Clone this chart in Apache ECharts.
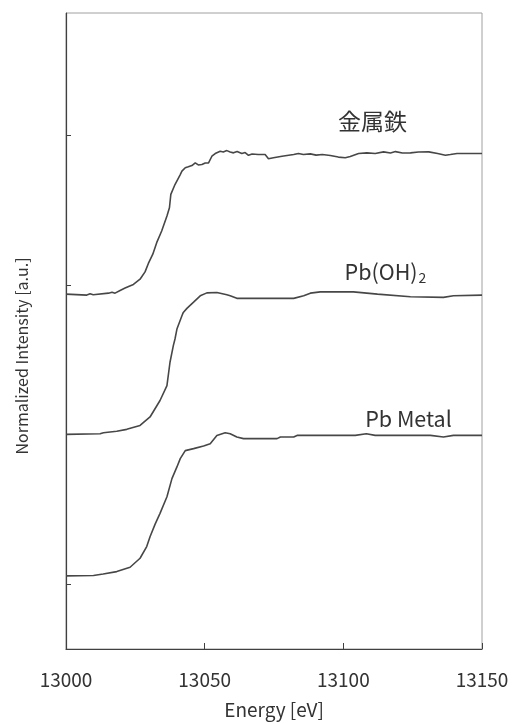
<!DOCTYPE html>
<html>
<head>
<meta charset="utf-8">
<script src="https://cdn.jsdelivr.net/npm/echarts@6/dist/echarts.min.js"></script>
<style>html,body{margin:0;padding:0;background:#fff}#c{width:512px;height:724px}</style>
</head>
<body>
<div id="c"></div>
<script>
// Energy [eV] and offset normalized intensity values
const pbMetal = [
  [13000,0.000],[13009.9,0.002],[13013.4,0.013],[13018.3,0.030],[13023.1,0.061],[13026.7,0.125],
  [13029.1,0.208],[13030.3,0.278],[13032.1,0.366],[13033.9,0.444],[13036.4,0.562],[13038.2,0.691],
  [13040.0,0.774],[13041.2,0.833],[13043.0,0.890],[13046.0,0.904],[13049.6,0.923],[13052.0,0.939],
  [13054.4,0.998],[13057.4,1.017],[13059.2,1.010],[13061.6,0.987],[13064.0,0.975],[13076.1,0.975],
  [13077.3,0.987],[13082.1,0.987],[13083.3,0.998],[13095.3,0.998],[13104.3,0.998],[13108.3,1.010],
  [13111.5,0.998],[13131.4,0.998],[13136.1,0.987],[13139.7,0.998],[13150,0.998]
];
const pbOH2 = [
  [13000,1.005],[13012.3,1.010],[13013.5,1.017],[13018.3,1.027],[13021.9,1.041],[13026.7,1.069],
  [13030.3,1.129],[13033.9,1.246],[13036.4,1.352],[13037.5,1.518],[13038.7,1.636],[13039.3,1.683],
  [13040.0,1.754],[13041.8,1.848],[13042.3,1.872],[13043.6,1.901],[13046.0,1.945],[13048.4,1.990],
  [13050.8,2.011],[13054.4,2.014],[13058.0,1.997],[13059.2,1.990],[13061.6,1.972],[13070.0,1.972],
  [13070.6,1.983],[13071.1,1.972],[13082.1,1.972],[13085.7,1.990],[13088.1,2.009],[13091.7,2.018],
  [13103.6,2.018],[13112.3,2.002],[13124.2,1.983],[13136.1,1.979],[13139.7,1.990],[13150,1.995]
];
const metalFe = [
  [13000,2.002],[13007.5,1.995],[13008.7,2.004],[13009.8,1.998],[13015.3,2.009],[13016.6,2.016],
  [13017.7,2.009],[13019.5,2.028],[13021.3,2.045],[13022.0,2.034],[13024.3,2.071],[13026.7,2.108],
  [13028.5,2.160],[13029.7,2.220],[13031.3,2.286],[13032.7,2.368],[13034.5,2.451],[13036.4,2.557],
  [13037.3,2.616],[13037.8,2.711],[13039.3,2.781],[13041.2,2.852],[13041.8,2.876],[13043.0,2.900],
  [13044.1,2.907],[13045.4,2.916],[13046.6,2.935],[13047.7,2.920],[13049.0,2.923],[13050.2,2.934],
  [13051.4,2.935],[13052.6,2.982],[13053.8,3.001],[13055.6,3.017],[13056.7,3.012],[13058.0,3.022],
  [13059.2,3.012],[13060.4,3.006],[13061.7,3.015],[13063.4,3.001],[13064.6,3.008],[13065.8,2.989],
  [13067.1,2.998],[13069.3,2.994],[13071.8,2.994],[13073.0,2.964],[13074.8,2.971],[13077.9,2.982],
  [13082.1,2.994],[13083.8,3.001],[13085.6,2.994],[13088.1,2.999],[13090.2,2.990],[13092.4,2.994],
  [13095.3,2.987],[13098.2,2.976],[13100.7,2.971],[13102.5,2.980],[13105.5,3.001],[13108.5,3.006],
  [13111.5,3.002],[13114.5,3.013],[13117.0,3.005],[13118.8,3.015],[13121.3,3.005],[13124.2,3.006],
  [13127.1,3.012],[13130.8,3.013],[13134.0,3.001],[13136.8,2.989],[13138.6,2.994],[13141.0,3.001],
  [13150,3.001]
];
const seriesNames = ['Pb Metal', 'Pb(OH)2', '金属鉄'];
// label anchor points in data coordinates [energy, value]
const labelAnchors = [[13123.5, 1.117], [13115.2, 2.158], [13110.5, 3.228]];
const xTicks = [13000, 13050, 13100, 13150];
const yTickValues = [-0.059, 1.003, 2.066, 3.129];

const FONT = '"Noto Sans CJK JP", "Noto Sans", sans-serif';
const chart = echarts.init(document.getElementById('c'));
const lineColor = '#474747';
const dataSets = [pbMetal, pbOH2, metalFe];
const labelFormats = ['Pb Metal', '{n|Pb(OH)}{s|2}', '金属鉄'];
const labelSizes = [21.5, 21.5, 23];

chart.setOption({
  animation: false,
  backgroundColor: '#fff',
  grid: { left: 66, right: 30, top: 13, bottom: 73, show: true, borderColor: '#a0a0a0', borderWidth: 1 },
  xAxis: {
    type: 'value', min: xTicks[0], max: xTicks[xTicks.length - 1], interval: 50,
    name: 'Energy [eV]', nameLocation: 'middle', nameGap: 51,
    nameTextStyle: { fontFamily: FONT, fontSize: 19, color: '#333' },
    axisLine: { show: true, onZero: false, lineStyle: { color: '#404040', width: 1.2 } },
    axisTick: { show: true, inside: true, length: 6, lineStyle: { color: '#404040' } },
    axisLabel: { margin: 21, fontFamily: FONT, fontSize: 19, color: '#333', formatter: v => String(v) },
    splitLine: { show: false }
  },
  yAxis: {
    type: 'value', min: -0.52, max: 4.0,
    name: 'Normalized Intensity [a.u.]', nameLocation: 'middle', nameGap: 36,
    nameTextStyle: { fontFamily: FONT, fontSize: 16, color: '#333', padding: [0, 50, 0, 0] },
    axisLine: { show: true, onZero: false, lineStyle: { color: '#404040', width: 1.2 } },
    axisTick: { show: true, inside: true, length: 5, customValues: yTickValues, lineStyle: { color: '#404040' } },
    axisLabel: { show: false },
    splitLine: { show: false }
  },
  series: dataSets.map((d, i) => ({
    name: seriesNames[i], type: 'line', data: d, showSymbol: false, symbol: 'none',
    lineStyle: { color: lineColor, width: 1.6 },
    markPoint: {
      symbol: 'circle', symbolSize: 0,
      data: [{ coord: labelAnchors[i] }],
      label: {
        show: true, position: 'inside', formatter: labelFormats[i],
        fontFamily: FONT, fontSize: labelSizes[i], color: '#333',
        rich: {
          n: { fontFamily: FONT, fontSize: 21.5, color: '#333', lineHeight: 26 },
          s: { fontFamily: FONT, fontSize: 14, color: '#333', lineHeight: 26, verticalAlign: 'bottom', padding: [11, 0, 0, 1] }
        }
      }
    }
  }))
});
</script>
</body>
</html>
